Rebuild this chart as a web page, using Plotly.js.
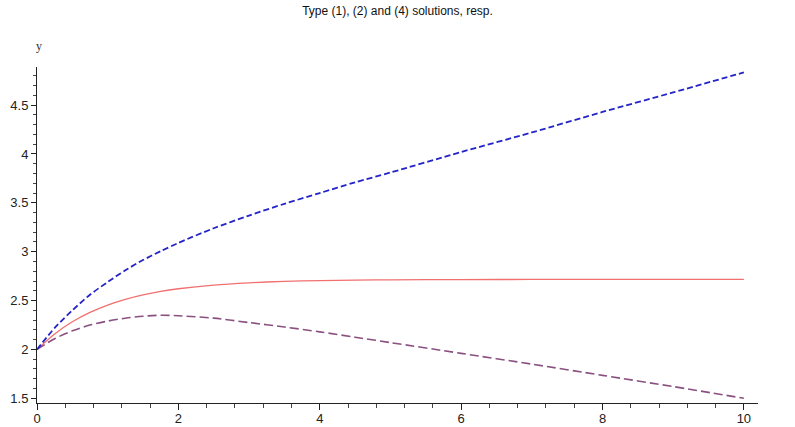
<!DOCTYPE html>
<html>
<head>
<meta charset="utf-8">
<script src="https://cdn.plot.ly/plotly-3.0.1.min.js"></script>
<style>html,body{margin:0;padding:0;background:#fff;}#chart{width:795px;height:427px;}</style>
</head>
<body>
<div id="chart"></div>
<script>
const xValues = [0, 0.25, 0.5, 0.75, 1, 1.25, 1.5, 1.75, 2, 2.5, 3, 3.5, 4, 4.5, 5, 6, 7, 8, 9, 10];
const type1 = [2.00, 2.22, 2.40, 2.56, 2.69, 2.81, 2.915, 3.005, 3.09, 3.24, 3.37, 3.49, 3.60, 3.71, 3.81, 4.02, 4.22, 4.43, 4.63, 4.835];
const type2 = [2.00, 2.159, 2.283, 2.379, 2.454, 2.512, 2.558, 2.594, 2.621, 2.659, 2.682, 2.697, 2.705, 2.709, 2.712, 2.715, 2.716, 2.717, 2.717, 2.717];
const type4 = [2.00, 2.11, 2.19, 2.25, 2.29, 2.32, 2.34, 2.35, 2.345, 2.32, 2.275, 2.23, 2.18, 2.125, 2.07, 1.96, 1.85, 1.735, 1.62, 1.50];
const xTicks = [0, 2, 4, 6, 8, 10];
const yTicks = [1.5, 2, 2.5, 3, 3.5, 4, 4.5];
const titleText = "Type (1), (2) and (4) solutions, resp.";
const yLabel = "y";

const traces = [
  {x: xValues, y: type2, mode: 'lines', line: {color: '#f07070', width: 1.3, shape: 'spline', smoothing: 0.8}, hoverinfo: 'skip'},
  {x: xValues, y: type4, mode: 'lines', line: {color: '#8a5080', width: 1.6, dash: '9px,4px', shape: 'spline', smoothing: 0.8}, hoverinfo: 'skip'},
  {x: xValues, y: type1, mode: 'lines', line: {color: '#2424c8', width: 1.8, dash: '6px,3px', shape: 'spline', smoothing: 0.8}, hoverinfo: 'skip'}
];

const layout = {
  width: 795, height: 427,
  margin: {l: 37, r: 37, t: 67, b: 24, pad: 0},
  paper_bgcolor: '#fff', plot_bgcolor: '#fff',
  showlegend: false,
  title: {text: titleText, x: 0.5, xanchor: 'center', y: 0.975, yanchor: 'middle',
          font: {family: 'Liberation Sans, Arial, sans-serif', size: 12, color: '#111'}},
  xaxis: {
    range: [0, 10.2], showgrid: false, zeroline: false, showline: true, linecolor: '#222', linewidth: 1,
    tickmode: 'array', tickvals: xTicks, ticktext: xTicks.map(String),
    ticks: 'outside', ticklen: 6, tickcolor: '#222', ticklabelstandoff: -3,
    minor: {dtick: 0.4, tick0: 0, ticks: 'outside', ticklen: 4, tickcolor: '#444', showgrid: false},
    tickfont: {family: 'Liberation Sans, Arial, sans-serif', size: 13, color: '#222'}
  },
  yaxis: {
    range: [1.452, 4.89], showgrid: false, zeroline: false, showline: true, linecolor: '#222', linewidth: 1,
    tickmode: 'array', tickvals: yTicks, ticktext: yTicks.map(String),
    ticks: 'outside', ticklen: 5, tickcolor: '#222',
    minor: {dtick: 0.1, tick0: 0, ticks: 'outside', ticklen: 3, tickcolor: '#444', showgrid: false},
    tickfont: {family: 'Liberation Sans, Arial, sans-serif', size: 13, color: '#222'}
  },
  annotations: [
    {text: yLabel, xref: 'paper', yref: 'paper', x: 0.0, y: 1.0, xanchor: 'center', xshift: 2, yshift: 30,
     showarrow: false, font: {family: 'Liberation Serif, Times New Roman, serif', size: 12, color: '#333'}}
  ]
};

Plotly.newPlot('chart', traces, layout, {staticPlot: true, displayModeBar: false});
</script>
</body>
</html>
